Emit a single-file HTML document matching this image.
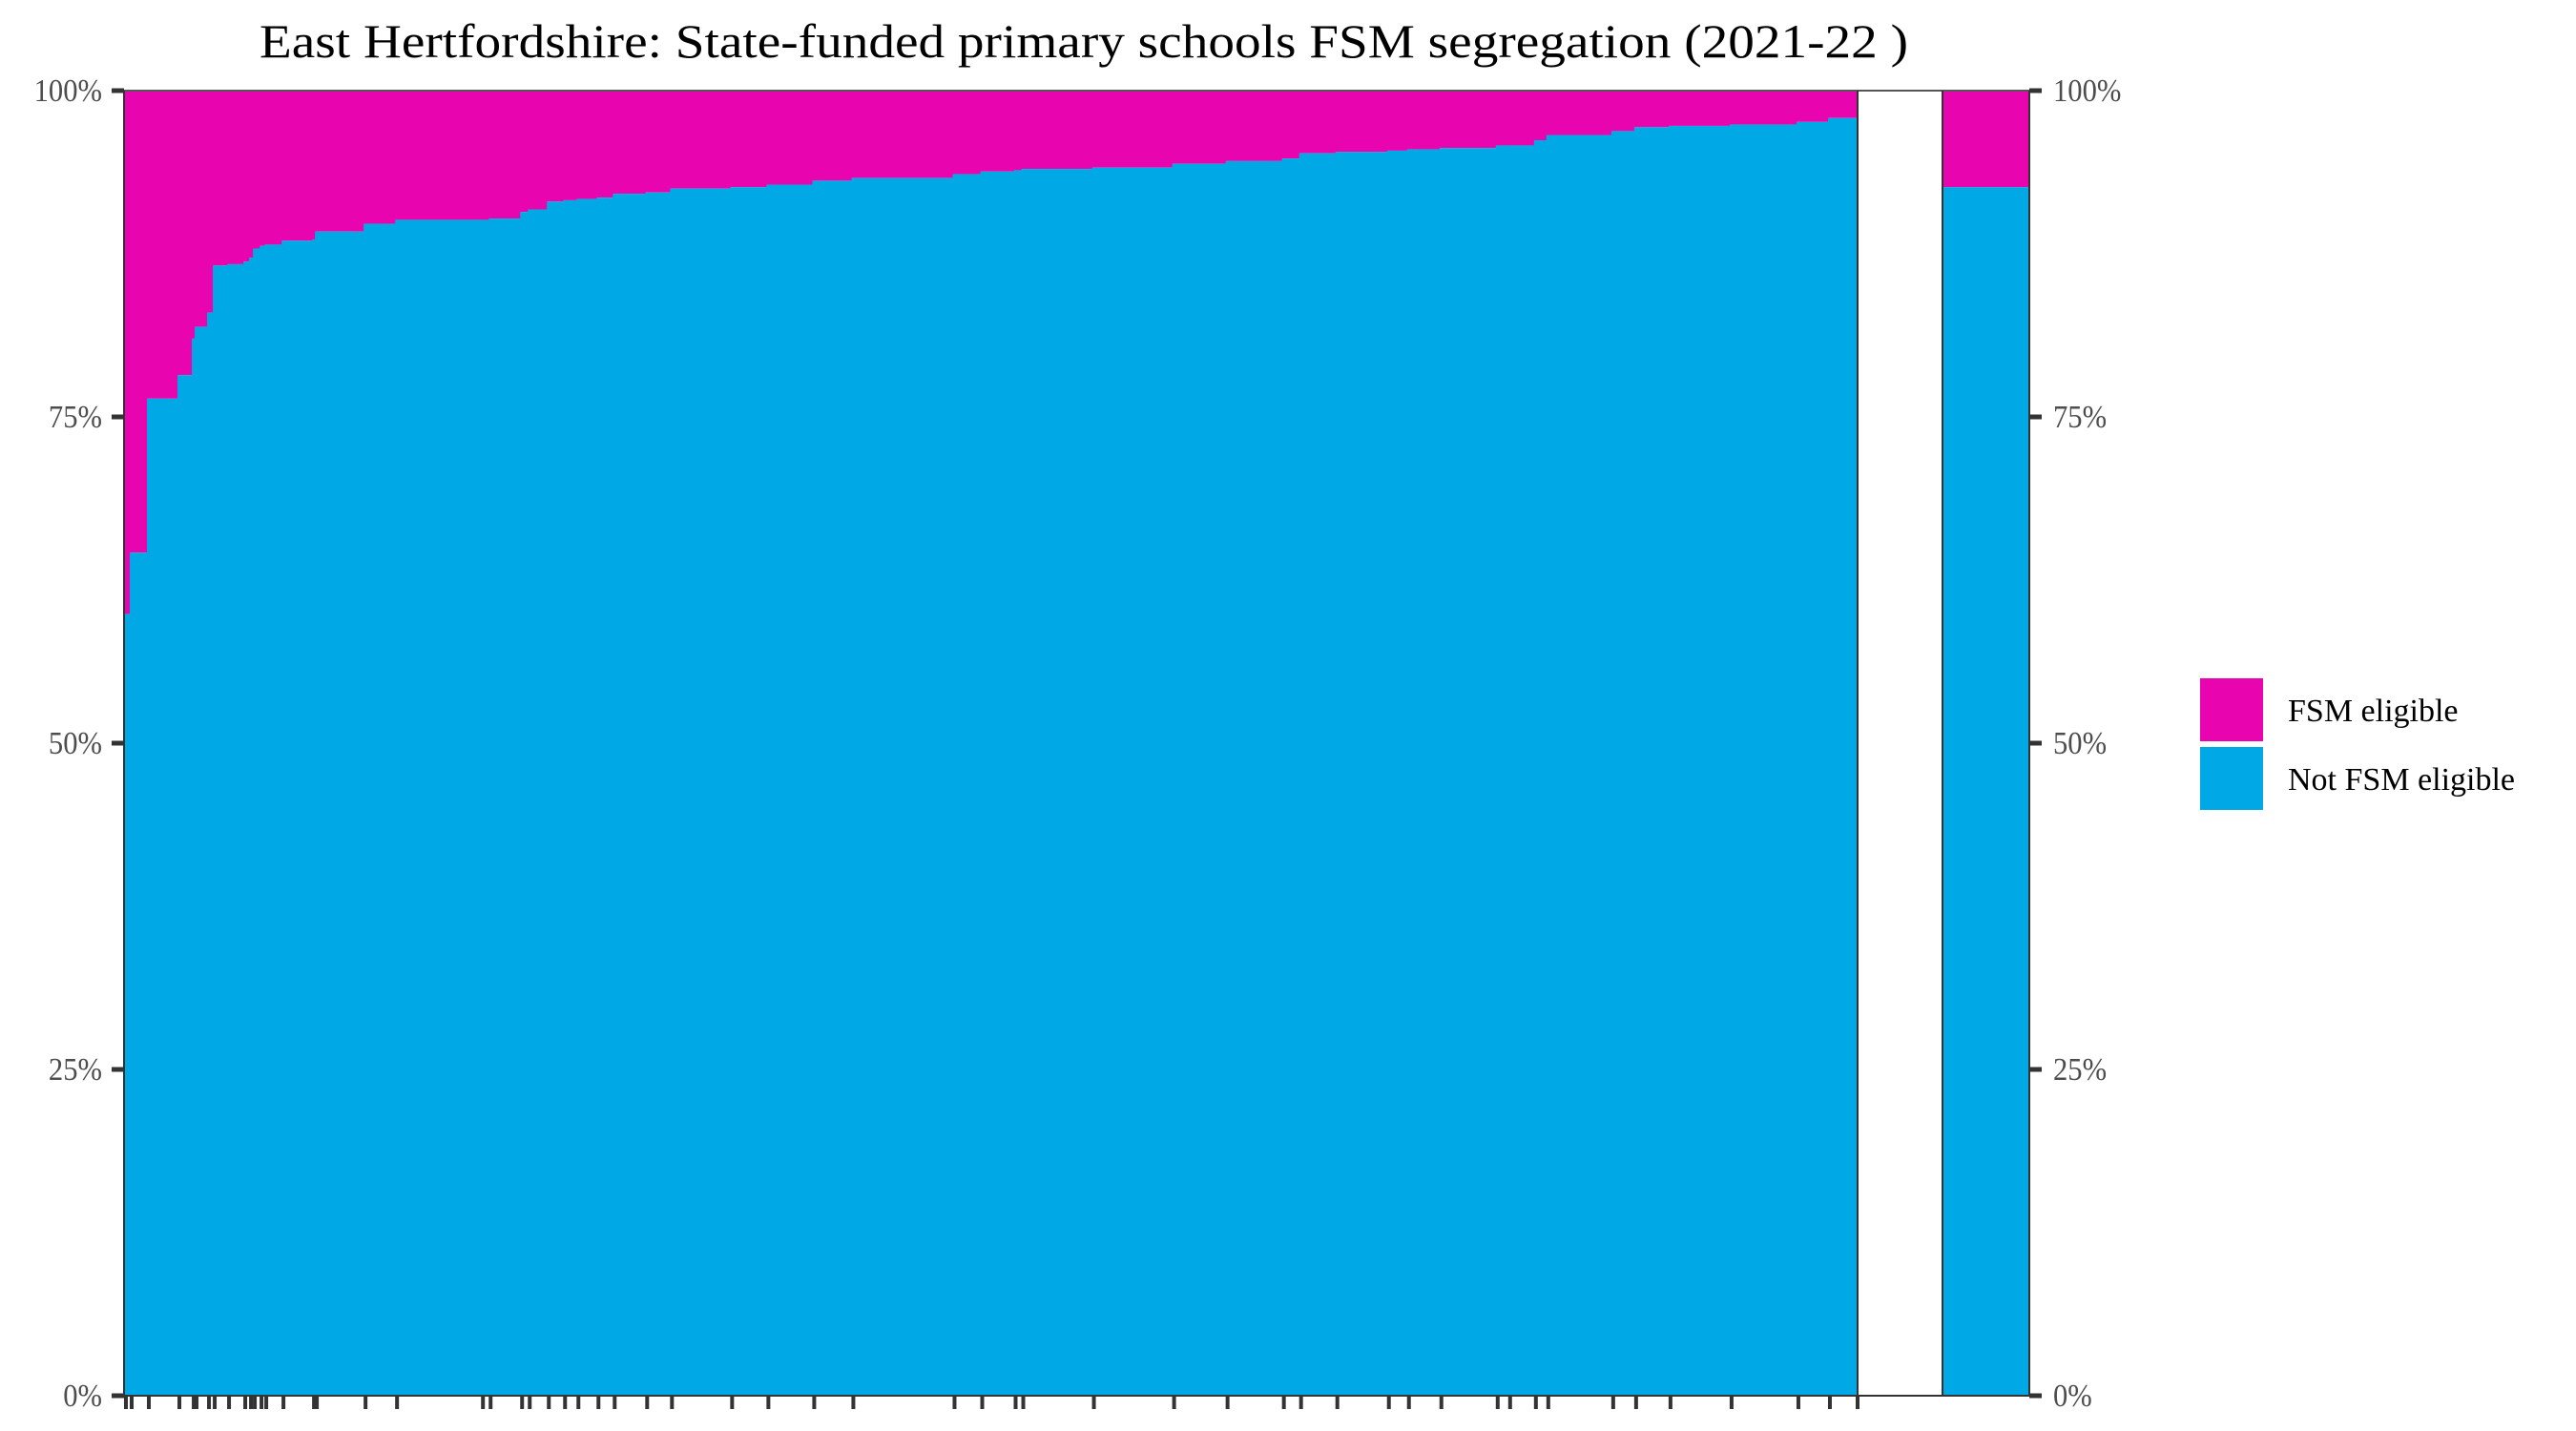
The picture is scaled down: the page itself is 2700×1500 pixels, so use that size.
<!DOCTYPE html>
<html><head><meta charset="utf-8"><style>
html,body{margin:0;padding:0;background:#fff;}
svg{display:block;font-family:"Liberation Serif",serif;}
</style></head><body>
<svg id="chart" width="2700" height="1500" viewBox="0 0 2700 1500" xmlns="http://www.w3.org/2000/svg">
<text x="1136" y="60" font-size="50" text-anchor="middle" textLength="1728" lengthAdjust="spacingAndGlyphs" fill="#000">East Hertfordshire: State-funded primary schools FSM segregation (2021-22 )</text>
<g id="bars"></g>
<g id="total"></g>
<g id="frame"></g>
<g id="yaxis-left"></g>
<g id="yaxis-right"></g>
<g id="xticks"></g>
<g>
<rect x="2306" y="711" width="66" height="66" fill="#E805AF"/>
<text x="2398" y="756" font-size="34" fill="#000">FSM eligible</text>
<rect x="2306" y="783" width="66" height="66" fill="#00A8E5"/>
<text x="2398" y="828" font-size="34" fill="#000">Not FSM eligible</text>
</g>
</svg>
<script>
// School widths (relative pupil counts), sorted by share not FSM eligible
const schoolSizes = [6,18,32,15,3,13,6,15,17,6,4,7,5,18,32,3,51,33,90,8,33,8,20,17,14,21,17,34,26,63,38,48,41,106,
  29,35,8,74,84,56,59,18,38,54,21,34,59,13,27,13,68,24,36,64,70,33,31];
// Percentage of pupils not FSM eligible per school
const notFsmPct = [59.9,64.6,76.4,78.2,81.0,81.9,83.0,86.6,86.7,86.9,87.2,87.9,88.1,88.2,88.5,88.6,89.2,89.8,90.1,90.1,90.2,90.7,90.9,91.5,91.6,91.7,91.8,92.1,92.2,92.5,92.6,92.8,93.1,93.3,
  93.6,93.8,93.9,94.0,94.1,94.4,94.6,94.8,95.2,95.3,95.4,95.5,95.6,95.8,95.8,96.2,96.6,96.9,97.2,97.3,97.4,97.6,97.9];
const totalNotFsmPct = [92.6];
const yTicks = [0,25,50,75,100];
const yTickLabels = ["0%","25%","50%","75%","100%"];

const NS="http://www.w3.org/2000/svg";
const X0=130, X1=1947, TX0=2036, TX1=2127, YT=95, YB=1463;
const FSM="#E805AF", NOT="#00A8E5";
function y(p){return YB-(p/100)*(YB-YT);}
const totalSize=schoolSizes.reduce((a,b)=>a+b,0);
function x(cum){return X0+cum/totalSize*(X1-X0);}
function mk(tag,attrs,parent){const e=document.createElementNS(NS,tag);for(const k in attrs)e.setAttribute(k,attrs[k]);parent.appendChild(e);return e;}

const bars=document.getElementById('bars');
const xt=document.getElementById('xticks');
let cum=0;
schoolSizes.forEach((s,i)=>{
  const xa=x(cum), xb=x(cum+s);
  const r1=mk('rect',{x:xa,y:YT,width:xb-xa+0.6,height:y(notFsmPct[i])-YT,fill:FSM},bars);
  
  
  const r2=mk('rect',{x:xa,y:y(notFsmPct[i]),width:xb-xa+0.6,height:YB-y(notFsmPct[i]),fill:NOT},bars);
  
  
  const t=mk('line',{x1:xa+2,x2:xa+2,y1:YB,y2:YB+14,stroke:'#333','stroke-width':4},xt);
  
  
  cum+=s;
});
const tEnd=mk('line',{x1:X1,x2:X1,y1:YB,y2:YB+14,stroke:'#333','stroke-width':4},xt);



const tot=document.getElementById('total');
const ta=mk('rect',{x:TX0,y:YT,width:TX1-TX0,height:y(totalNotFsmPct[0])-YT,fill:FSM},tot);


const tb=mk('rect',{x:TX0,y:y(totalNotFsmPct[0]),width:TX1-TX0,height:YB-y(totalNotFsmPct[0]),fill:NOT},tot);



const fr=document.getElementById('frame');
const f1=mk('line',{x1:X0,x2:TX1,y1:YT,y2:YT,stroke:'#555','stroke-width':2},fr);


const f2=mk('line',{x1:X0,x2:TX1,y1:YB,y2:YB,stroke:'#333','stroke-width':2},fr);


[X0,X1,TX0,TX1].forEach(xx=>{
  const l=mk('line',{x1:xx,x2:xx,y1:YT,y2:YB,stroke:'#333','stroke-width':2},fr);
  
  
});

const yl=document.getElementById('yaxis-left'), yr=document.getElementById('yaxis-right');
yTicks.forEach((v,i)=>{
  const a=mk('line',{x1:X0-13,x2:X0,y1:y(v),y2:y(v),stroke:'#333','stroke-width':5},yl);
  
  
  const b=mk('text',{x:107,y:y(v)+11,'font-size':34,'text-anchor':'end',fill:'#4d4d4d',transform:'translate(107 0) scale(0.9 1) translate(-107 0)'},yl);
  b.textContent=yTickLabels[i];
  
  
  const c=mk('line',{x1:TX1,x2:TX1+13,y1:y(v),y2:y(v),stroke:'#333','stroke-width':5},yr);
  
  
  const d=mk('text',{x:2152,y:y(v)+11,'font-size':34,'text-anchor':'start',fill:'#4d4d4d',transform:'translate(2152 0) scale(0.9 1) translate(-2152 0)'},yr);
  d.textContent=yTickLabels[i];
  
  
});
</script>
</body></html>
